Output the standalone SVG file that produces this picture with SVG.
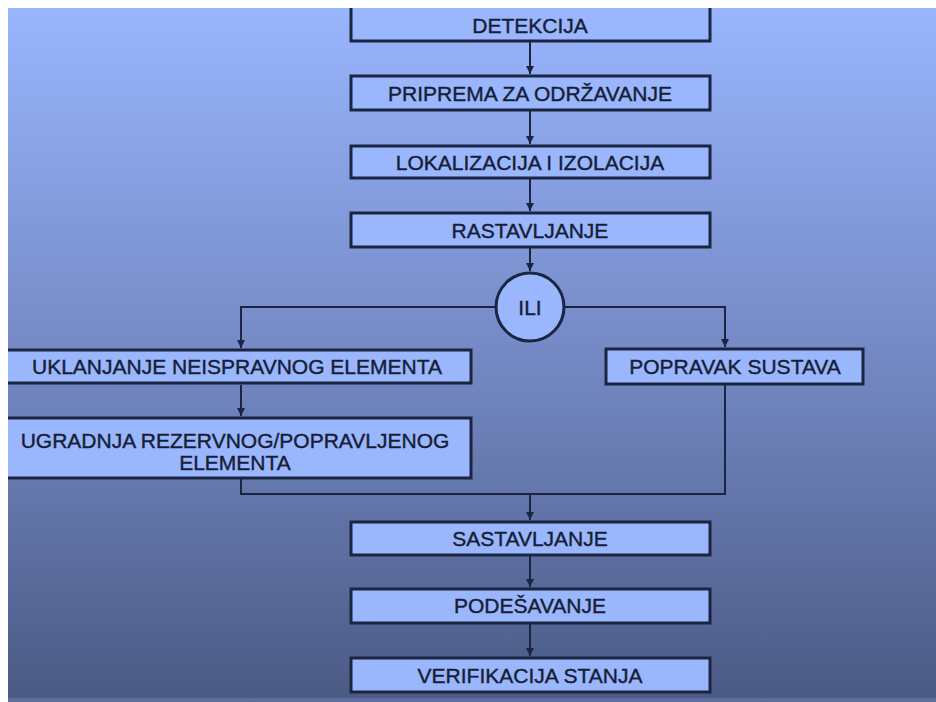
<svg xmlns="http://www.w3.org/2000/svg" width="936" height="702" viewBox="0 0 936 702">
<defs>
<linearGradient id="bg" x1="0" y1="0" x2="0" y2="1">
<stop offset="0" stop-color="#99b5fd"/>
<stop offset="0.5" stop-color="#7489c4"/>
<stop offset="1" stop-color="#4b5a84"/>
</linearGradient>
<marker id="ah" viewBox="0 0 10 10" refX="10" refY="5" markerWidth="8" markerHeight="8" markerUnits="userSpaceOnUse" orient="auto">
<path d="M0,0 L10,5 L0,10 Z" fill="#1b2440"/>
</marker>
<style>
.box{fill:#9ab6fd;stroke:#1b2440;stroke-width:3}
.t{font-family:"Liberation Sans",Arial,sans-serif;font-size:21px;fill:#161e36;stroke:#161e36;stroke-width:0.4;text-anchor:middle}
.c{fill:none;stroke:#1b2440;stroke-width:2}
</style>
</defs>
<rect x="0" y="0" width="936" height="702" fill="#ffffff"/>
<rect x="8" y="8" width="928" height="694" fill="url(#bg)"/>
<rect x="8" y="698" width="928" height="4" fill="#5e6e9c"/>
<g id="connectors">
<line class="c" x1="530" y1="42" x2="530" y2="74" marker-end="url(#ah)"/>
<line class="c" x1="530" y1="111" x2="530" y2="144" marker-end="url(#ah)"/>
<line class="c" x1="530" y1="179" x2="530" y2="211" marker-end="url(#ah)"/>
<line class="c" x1="530" y1="248" x2="530" y2="271" marker-end="url(#ah)"/>
<polyline class="c" points="495,307 241,307 241,348" marker-end="url(#ah)"/>
<polyline class="c" points="565,307 725,307 725,347" marker-end="url(#ah)"/>
<line class="c" x1="241" y1="385" x2="241" y2="416" marker-end="url(#ah)"/>
<polyline class="c" points="241,479 241,494 725,494 725,385"/>
<line class="c" x1="530" y1="494" x2="530" y2="520" marker-end="url(#ah)"/>
<line class="c" x1="530" y1="556" x2="530" y2="587" marker-end="url(#ah)"/>
<line class="c" x1="530" y1="624" x2="530" y2="656" marker-end="url(#ah)"/>
</g>
<g id="detekcija">
<rect class="box" x="351" y="4" width="359" height="37"/>
<text class="t" x="530" y="33">DETEKCIJA</text>
</g>
<g id="priprema">
<rect class="box" x="351" y="76" width="359" height="34"/>
<text class="t" x="530" y="101">PRIPREMA ZA ODRŽAVANJE</text>
</g>
<g id="lokalizacija">
<rect class="box" x="351" y="146" width="359" height="32"/>
<text class="t" x="530" y="170">LOKALIZACIJA I IZOLACIJA</text>
</g>
<g id="rastavljanje">
<rect class="box" x="351" y="213" width="359" height="34"/>
<text class="t" x="530" y="238">RASTAVLJANJE</text>
</g>
<g id="ili">
<circle class="box" cx="530" cy="307" r="34"/>
<text class="t" x="530" y="315">ILI</text>
</g>
<g id="uklanjanje">
<rect class="box" x="4" y="350" width="467" height="33"/>
<text class="t" x="237" y="374">UKLANJANJE NEISPRAVNOG ELEMENTA</text>
</g>
<g id="ugradnja">
<rect class="box" x="4" y="418" width="467" height="60"/>
<text class="t" x="235" y="448">UGRADNJA REZERVNOG/POPRAVLJENOG</text>
<text class="t" x="235" y="470">ELEMENTA</text>
</g>
<g id="popravak">
<rect class="box" x="606" y="349" width="257" height="35"/>
<text class="t" x="735" y="374">POPRAVAK SUSTAVA</text>
</g>
<g id="sastavljanje">
<rect class="box" x="351" y="522" width="359" height="33"/>
<text class="t" x="530" y="546">SASTAVLJANJE</text>
</g>
<g id="podesavanje">
<rect class="box" x="351" y="589" width="359" height="34"/>
<text class="t" x="530" y="613">PODEŠAVANJE</text>
</g>
<g id="verifikacija">
<rect class="box" x="351" y="658" width="359" height="34"/>
<text class="t" x="530" y="683">VERIFIKACIJA STANJA</text>
</g>
<rect x="0" y="0" width="936" height="8" fill="#ffffff"/>
<rect x="0" y="0" width="8" height="702" fill="#ffffff"/>
</svg>
